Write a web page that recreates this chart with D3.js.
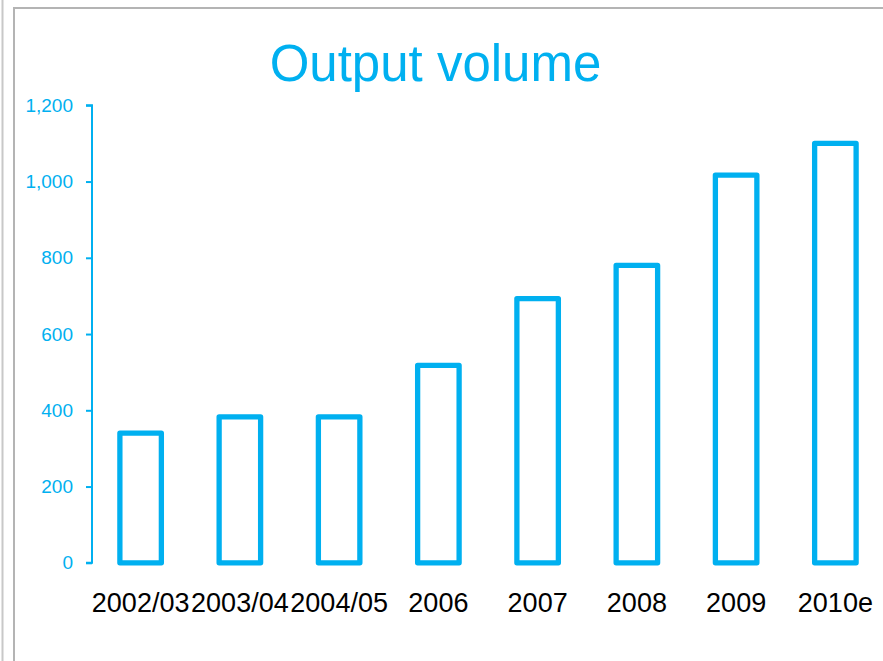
<!DOCTYPE html>
<html>
<head>
<meta charset="utf-8">
<script src="https://cdnjs.cloudflare.com/ajax/libs/d3/7.8.5/d3.min.js"></script>
<style>
  html, body { margin: 0; padding: 0; background: #fff; }
  svg { display: block; }
  text { font-family: "Liberation Sans", Arial, sans-serif; }
</style>
</head>
<body>
<svg id="chart" width="883" height="661"></svg>
<script>
// Output volume by period
const categories = ["2002/03", "2003/04", "2004/05", "2006", "2007", "2008", "2009", "2010e"];
const volumes = [340, 383, 383, 518, 693, 780, 1017, 1100];
const yTicks = [0, 200, 400, 600, 800, 1000, 1200];
const chartTitle = "Output volume";

const blue = "#00b0f0";
const svg = d3.select("#chart");

// Panel frame lines
svg.append("line").attr("x1", 2.5).attr("x2", 2.5).attr("y1", 0).attr("y2", 661)
  .attr("stroke", "#c8c8c8").attr("stroke-width", 2);
svg.append("line").attr("x1", 14).attr("x2", 14).attr("y1", 8).attr("y2", 661)
  .attr("stroke", "#b4b4b4").attr("stroke-width", 2);
svg.append("line").attr("x1", 13).attr("x2", 883).attr("y1", 8).attr("y2", 8)
  .attr("stroke", "#b4b4b4").attr("stroke-width", 2);

const x = d3.scaleBand()
  .domain(categories)
  .range([91, 885])
  .paddingInner(0.582)
  .paddingOuter(0.291);

const y = d3.scaleLinear()
  .domain([0, 1200])
  .range([562.8, 105.3]);

// Title
svg.append("text")
  .attr("x", 435.5)
  .attr("y", 81)
  .attr("text-anchor", "middle")
  .attr("fill", blue)
  .style("font-size", "51px")
  .text(chartTitle);

// Y axis
const yAxis = d3.axisLeft(y)
  .tickValues(yTicks)
  .tickFormat(d3.format(","))
  .tickSize(6)
  .tickPadding(13);

const gy = svg.append("g")
  .attr("transform", "translate(92,0)")
  .call(yAxis);
gy.select(".domain").attr("stroke", blue).attr("stroke-width", 2)
  .attr("d", `M-6,${y(1200)}H0V${y(0)}H-6`);
gy.selectAll(".tick line").attr("stroke", blue).attr("stroke-width", 2);
gy.selectAll(".tick text")
  .attr("fill", blue)
  .style("font-size", "19px")
  .style("font-family", "'Liberation Sans', Arial, sans-serif");

// X axis labels (no axis line)
const gx = svg.append("g")
  .attr("transform", `translate(0,${y(0)})`)
  .call(d3.axisBottom(x).tickSize(0).tickPadding(0));
gx.select(".domain").remove();
gx.selectAll(".tick text")
  .attr("fill", "#000")
  .attr("dy", null)
  .attr("y", 49)
  .style("font-size", "27px")
  .style("font-family", "'Liberation Sans', Arial, sans-serif");

// Outlined bars
svg.append("g")
  .selectAll("rect")
  .data(categories)
  .join("rect")
  .attr("x", d => x(d))
  .attr("width", x.bandwidth())
  .attr("y", (d, i) => y(volumes[i]))
  .attr("height", (d, i) => y(0) - y(volumes[i]))
  .attr("fill", "#fff")
  .attr("stroke", blue)
  .attr("stroke-width", 5.3)
  .attr("stroke-linejoin", "round");
</script>
</body>
</html>
